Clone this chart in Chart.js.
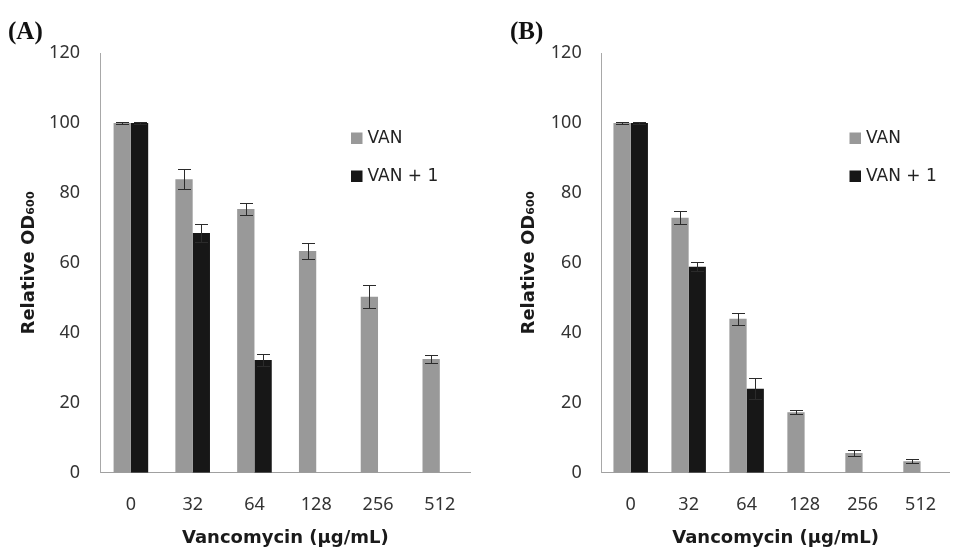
<!DOCTYPE html>
<html>
<head>
<meta charset="utf-8">
<script src="https://cdn.jsdelivr.net/npm/chart.js@4.4.1/dist/chart.umd.min.js"></script>
<style>
  html, body { margin: 0; padding: 0; background: #ffffff; }
  #wrap { position: relative; width: 957px; height: 552px; overflow: hidden; background: #fff; }
  .panel { position: absolute; top: 0; height: 552px; }
  .plabel { position: absolute; font-family: "Liberation Serif", "Times New Roman", serif; font-weight: bold; font-size: 25px; color: #111; line-height: 1; }
</style>
</head>
<body>
<div id="wrap">
  <div class="panel" style="left:0;width:480px;"><canvas id="cA" width="480" height="552"></canvas></div>
  <div class="panel" style="left:480px;width:477px;"><canvas id="cB" width="477" height="552"></canvas></div>
  <div class="plabel" style="left:8px;top:18px;">(A)</div>
  <div class="plabel" style="left:510px;top:18px;">(B)</div>
</div>
<script>
// ---- data ----
const categories = ['0', '32', '64', '128', '256', '512'];
const seriesNames = ['VAN', 'VAN + 1'];
const yTicks = [0, 20, 40, 60, 80, 100, 120];

// Panel A
const vanA      = [100, 83.9, 75.4, 63.4, 50.3, 32.5];
const vanErrA   = [0.3, 2.8, 1.6, 2.2, 3.3, 1.1];
const van1A     = [100, 68.5, 32.2, 0, 0, 0];
const van1ErrA  = [0.3, 2.6, 1.8, 0, 0, 0];

// Panel B
const vanB      = [100, 72.9, 44.0, 17.3, 5.6, 3.3];
const vanErrB   = [0.3, 1.8, 1.8, 0.6, 0.8, 0.6];
const van1B     = [100, 58.9, 24.0, 0, 0, 0];
const van1ErrB  = [0.3, 1.3, 3.0, 0, 0, 0];

const TICKFONT = '"Noto Sans", "Open Sans", sans-serif';
const TITLEFONT = '"DejaVu Sans", "Noto Sans", sans-serif';
const GREY = '#999999';
const BLACK = '#171717';

const errorBarPlugin = {
  id: 'errorBars',
  afterDatasetsDraw(chart) {
    const ctx = chart.ctx;
    const yScale = chart.scales.y;
    ctx.save();
    ctx.strokeStyle = '#2b2b2b';
    ctx.lineWidth = 1;
    chart.data.datasets.forEach((ds, i) => {
      const meta = chart.getDatasetMeta(i);
      if (!ds.errors) return;
      meta.data.forEach((el, j) => {
        const v = ds.data[j], e = ds.errors[j];
        if (!e) return;
        const x = Math.round(el.x) + 0.5;
        const yt = Math.round(yScale.getPixelForValue(v + e)) + 0.5;
        const yb = Math.round(yScale.getPixelForValue(v - e)) + 0.5;
        const cw = 6.5;
        ctx.beginPath();
        ctx.moveTo(x, yt); ctx.lineTo(x, yb);
        ctx.moveTo(x - cw, yt); ctx.lineTo(x + cw, yt);
        ctx.moveTo(x - cw, yb); ctx.lineTo(x + cw, yb);
        ctx.stroke();
      });
    });
    ctx.restore();
  }
};

const legendPlugin = {
  id: 'insideLegend',
  afterDraw(chart, args, opts) {
    const ctx = chart.ctx;
    ctx.save();
    ctx.font = '17px ' + TITLEFONT;
    ctx.textBaseline = 'middle';
    ctx.textAlign = 'left';
    chart.data.datasets.forEach((ds, i) => {
      const cy = opts.y + i * opts.gap;
      ctx.fillStyle = ds.backgroundColor;
      ctx.fillRect(opts.x, cy - 5.5, 11.5, 11.5);
      ctx.fillStyle = '#222';
      ctx.fillText(ds.label, opts.x + 16.5, cy + 1);
    });
    ctx.restore();
  }
};

function makeChart(id, van, vanErr, van1, van1Err, cfg) {
  return new Chart(document.getElementById(id), {
    type: 'bar',
    data: {
      labels: categories,
      datasets: [
        { label: seriesNames[0], data: van, errors: vanErr, backgroundColor: GREY, borderWidth: 0,
          categoryPercentage: cfg.catPct, barPercentage: 1.0 },
        { label: seriesNames[1], data: van1, errors: van1Err, backgroundColor: BLACK, borderWidth: 0,
          categoryPercentage: cfg.catPct, barPercentage: 1.0 }
      ]
    },
    options: {
      responsive: false,
      animation: false,
      devicePixelRatio: 1,
      layout: { padding: { top: 53, bottom: 0, left: 0, right: cfg.padRight } },
      plugins: {
        legend: { display: false },
        tooltip: { enabled: false },
        insideLegend: { x: cfg.legX, y: 138, gap: 38 }
      },
      scales: {
        x: {
          grid: { display: false, drawTicks: false },
          border: { display: true, color: '#a0a0a0', width: 1 },
          ticks: { color: '#333', font: { family: TICKFONT, size: 18 }, padding: 21, maxRotation: 0 },
          title: { display: true, text: 'Vancomycin (μg/mL)', color: '#1a1a1a',
                   font: { family: TITLEFONT, size: 18, weight: 'bold' }, padding: { top: 0, bottom: 3 } },
          afterFit(s) { s.height = 552 - 472.7; }
        },
        y: {
          min: 0, max: 120,
          afterBuildTicks(s) { s.ticks = yTicks.map(v => ({ value: v })); },
          grid: { display: false, drawTicks: false },
          border: { display: true, color: '#a8a8a8', width: 1 },
          ticks: { color: '#333', font: { family: TICKFONT, size: 18 }, padding: 20 },
          title: { display: true, text: 'Relative OD₆₀₀', color: '#1a1a1a',
                   font: { family: TITLEFONT, size: 18, weight: 'bold' }, padding: { top: cfg.titlePad, bottom: 0 } },
          afterFit(s) { s.width = cfg.yWidth; }
        }
      }
    },
    plugins: [errorBarPlugin, legendPlugin]
  });
}

makeChart('cA', vanA, vanErrA, van1A, van1ErrA,
  { catPct: 0.56, padRight: 9.3, yWidth: 100, titlePad: 19, legX: 351 });
makeChart('cB', vanB, vanErrB, van1B, van1ErrB,
  { catPct: 0.595, padRight: 0, yWidth: 121.7, titlePad: 39, legX: 369.5 });
</script>
</body>
</html>
